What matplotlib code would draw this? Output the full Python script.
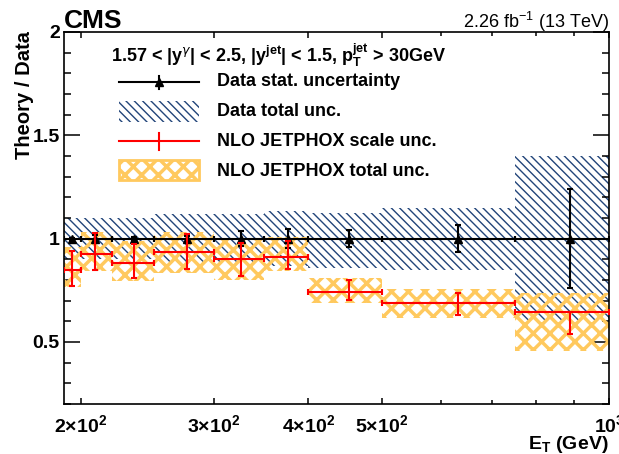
import numpy as np
import matplotlib
matplotlib.use("Agg")
import matplotlib.pyplot as plt
from matplotlib.patches import Rectangle
from matplotlib.lines import Line2D
from matplotlib.ticker import FixedLocator, FixedFormatter, MultipleLocator, NullFormatter

plt.rcParams['font.family'] = ['Liberation Sans', 'DejaVu Sans']

# ---------------- data ----------------
bin_edges = [190, 200, 220, 250, 300, 350, 400, 500, 750, 1000]
x_points = [194.5, 209, 235, 276, 326, 376, 453, 632, 889]
data_ratio = [1, 1, 1, 1, 1, 1, 1, 1, 1]
data_stat = [0.005, 0.02, 0.01, 0.015, 0.036, 0.046, 0.042, 0.065, 0.24]
data_tot_up = [0.10, 0.10, 0.10, 0.117, 0.117, 0.133, 0.126, 0.15, 0.40]
data_tot_dn = [0.10, 0.10, 0.10, 0.117, 0.117, 0.133, 0.14, 0.15, 0.40]

theory = [0.848, 0.924, 0.884, 0.935, 0.900, 0.911, 0.744, 0.687, 0.647]
scale_up = [0.092, 0.105, 0.088, 0.089, 0.081, 0.077, 0.054, 0.049, 0.0]
scale_dn = [0.077, 0.076, 0.072, 0.083, 0.081, 0.056, 0.041, 0.057, 0.109]
theory_tot_hi = [0.96, 1.03, 0.99, 1.03, 1.00, 1.01, 0.811, 0.758, 0.739]
theory_tot_lo = [0.765, 0.843, 0.795, 0.835, 0.80, 0.845, 0.69, 0.618, 0.457]

xtick_vals = [200, 300, 400, 500, 1000]
xtick_labels = [r'$\mathregular{2{\times}10^{2}}$', r'$\mathregular{3{\times}10^{2}}$',
                r'$\mathregular{4{\times}10^{2}}$', r'$\mathregular{5{\times}10^{2}}$',
                r'$\mathregular{10^{3}}$']
xminor_vals = [600, 700, 800, 900]

# ---------------- figure ----------------
W, H = 619, 454
fig = plt.figure(figsize=(W / 100, H / 100), dpi=100)
ax = fig.add_axes([64 / W, 1 - 404 / H, (609 - 64) / W, (404 - 32) / H])

edges = np.array(bin_edges, dtype=float)
lefts = edges[:-1]
widths = np.diff(edges)
xp = np.array(x_points)

blue = '#22457a'
yellow = '#ffc95e'


def set_hlw(p, lw):
    try:
        p.set_hatch_linewidth(lw)
    except Exception:
        pass


# data total uncertainty (hatched)
plt.rcParams['hatch.linewidth'] = 1.0
bars = ax.bar(lefts, np.array(data_tot_up) + np.array(data_tot_dn),
              bottom=np.array(data_ratio) - np.array(data_tot_dn), width=widths,
              align='edge', fill=False, hatch='\\\\\\\\', edgecolor=blue, linewidth=0, zorder=1)
for b in bars:
    set_hlw(b, 1.0)

# theory total uncertainty (yellow crosshatch)
plt.rcParams['hatch.linewidth'] = 2.5
ybars = ax.bar(lefts, np.array(theory_tot_hi) - np.array(theory_tot_lo),
               bottom=theory_tot_lo, width=widths, align='edge', fill=False,
               hatch='xx', edgecolor=yellow, linewidth=0, zorder=2)
for b in ybars:
    set_hlw(b, 2.5)

# data points
ax.errorbar(xp, data_ratio, yerr=data_stat, xerr=[xp - lefts, edges[1:] - xp],
            fmt='^', color='black', ms=6, elinewidth=1.5, capsize=2, capthick=1.5, zorder=4)

# theory scale
ax.errorbar(xp, theory, yerr=[scale_dn, scale_up], xerr=[xp - lefts, edges[1:] - xp],
            fmt='none', ecolor='#ff0000', elinewidth=1.5, capsize=2.5, capthick=1.5, zorder=5)

ax.set_xscale('log')
ax.set_xlim(190, 1000)
ax.set_ylim(0.2, 2.0)

ax.xaxis.set_major_locator(FixedLocator(xtick_vals))
ax.xaxis.set_major_formatter(FixedFormatter(xtick_labels))
ax.xaxis.set_minor_locator(FixedLocator(xminor_vals))
ax.xaxis.set_minor_formatter(NullFormatter())
ax.yaxis.set_major_locator(FixedLocator([0.5, 1.0, 1.5, 2.0]))
ax.yaxis.set_major_formatter(FixedFormatter(['0.5', '1', '1.5', '2']))
ax.yaxis.set_minor_locator(MultipleLocator(0.1))

ax.tick_params(axis='y', which='major', direction='in', length=11.5, width=1.1,
               left=True, right=True, labelsize=14, pad=3)
ax.tick_params(axis='y', which='minor', direction='in', length=5, width=1.1,
               left=True, right=True)
ax.tick_params(axis='x', which='major', direction='in', length=4.5, width=1.1,
               bottom=True, top=True, labelsize=14, pad=7)
ax.tick_params(axis='x', which='minor', direction='in', length=3, width=1.1,
               bottom=True, top=True)
for lab in ax.get_xticklabels() + ax.get_yticklabels():
    lab.set_fontweight('bold')
for s in ax.spines.values():
    s.set_linewidth(1.2)

# ---------------- overlay in pixel coordinates ----------------
ov = fig.add_axes([0, 0, 1, 1], zorder=10)
ov.set_xlim(0, W)
ov.set_ylim(H, 0)
ov.axis('off')
ov.patch.set_alpha(0)

ov.text(64, 28, 'CMS', fontsize=19, fontweight='bold', ha='left', va='baseline')
ov.text(609, 28, r'2.26 fb$^{\mathregular{-1}}$ (13 TeV)', fontsize=13, ha='right', va='baseline')
ov.text(24, 31, 'Theory / Data', fontsize=14.5, fontweight='bold', rotation=90,
        ha='center', va='top')
ov.text(609, 449, r'E$_{\mathregular{T}}$ (GeV)', fontsize=14, fontweight='bold',
        ha='right', va='baseline')

ov.text(111, 62, r'1.57 < |y$^{\gamma}$| < 2.5, |y$^{\mathregular{jet}}$| < 1.5, '
        r'p$_{\mathregular{T}}^{\mathregular{jet}}$ > 30GeV',
        fontsize=13, fontweight='bold', ha='left', va='baseline')

entries = ['Data stat. uncertainty', 'Data total unc.', 'NLO JETPHOX scale unc.',
           'NLO JETPHOX total unc.']
ys = [82, 112, 141, 171]
for lab, yy in zip(entries, ys):
    ov.text(217, yy, lab, fontsize=13, fontweight='bold', ha='left', va='center')

# handle 1: black line + triangle + vertical bar
ov.add_line(Line2D([119, 199], [82, 82], color='black', lw=1.5))
ov.add_line(Line2D([159, 159], [76, 89], color='black', lw=1.5))
ov.plot([159], [82], marker='^', color='black', ms=6)
# handle 2: hatched box
plt.rcParams['hatch.linewidth'] = 1.0
r2 = Rectangle((119, 101), 80, 21, fill=False, hatch='\\\\\\\\', edgecolor=blue, lw=0)
set_hlw(r2, 1.0)
ov.add_patch(r2)
# handle 3: red cross
ov.add_line(Line2D([119, 199], [141, 141], color='#ff0000', lw=1.5))
ov.add_line(Line2D([159, 159], [133, 150], color='#ff0000', lw=1.5))
# handle 4: yellow crosshatch box
plt.rcParams['hatch.linewidth'] = 2.5
r4 = Rectangle((119, 160), 80, 20, fill=False, hatch='xx', edgecolor=yellow, lw=2)
set_hlw(r4, 2.5)
ov.add_patch(r4)

fig.savefig('out.png', dpi=100)
